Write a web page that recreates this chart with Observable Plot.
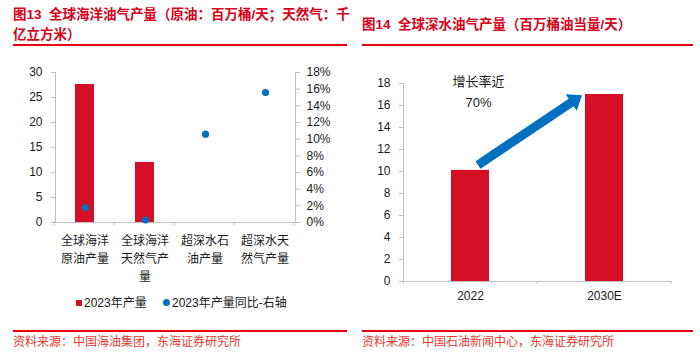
<!DOCTYPE html>
<html>
<head>
<meta charset="utf-8">
<script src="https://cdn.jsdelivr.net/npm/d3@7"></script>
<script src="https://cdn.jsdelivr.net/npm/@observablehq/plot@0.6"></script>
<style>
  body { margin: 0; background: #fff; }
  #root { position: relative; width: 700px; height: 357px; overflow: hidden; background: #fff;
          font-family: "Liberation Sans", Arial, "Noto Sans CJK SC", sans-serif; }
  .abs { position: absolute; }
  .title { color: #D7001A; font-weight: bold; font-size: 13.5px; line-height: 20px; white-space: nowrap; }
  .rule { position: absolute; height: 2px; background: #E60012; }
  .source { color: #E8382F; font-size: 12px; line-height: 16px; white-space: nowrap; }
  .legend { font-size: 12px; line-height: 16px; color: #1a1a1a; white-space: nowrap; }
  .sw { position: absolute; width: 6px; height: 6px; }
</style>
</head>
<body>
<div id="root">
  <div class="abs title" style="left:13px;top:5px;">图13&nbsp;&nbsp;全球海洋油气产量（原油：百万桶/天；天然气：千<br>亿立方米）</div>
  <div class="rule" style="left:13px;top:44px;width:334px;"></div>
  <div class="abs title" style="left:362px;top:15px;">图14&nbsp;&nbsp;全球深水油气产量（百万桶油当量/天）</div>
  <div class="rule" style="left:362px;top:44px;width:331px;"></div>

  <div id="left" class="abs" style="left:0;top:60px;"></div>
  <div id="leftOverlay" class="abs" style="left:0;top:60px;"></div>
  <div id="right" class="abs" style="left:350px;top:60px;"></div>

  <div class="sw" style="left:76px;top:299.5px;background:#D50F25;"></div>
  <div class="abs legend" style="left:84px;top:294.5px;" id="leg1"></div>
  <div class="sw" style="left:163px;top:299px;background:#0070C0;border-radius:50%;width:7px;height:7px;"></div>
  <div class="abs legend" style="left:172px;top:294.5px;" id="leg2"></div>

  <div class="rule" style="left:13px;top:330px;width:334px;"></div>
  <div class="abs source" style="left:13px;top:334px;">资料来源：中国海油集团，东海证券研究所</div>
  <div class="rule" style="left:362px;top:330px;width:331px;"></div>
  <div class="abs source" style="left:362px;top:334px;">资料来源：中国石油新闻中心，东海证券研究所</div>
</div>
<script>
// ---------- data ----------
const categories = ["全球海洋原油产量", "全球海洋天然气产量", "超深水石油产量", "超深水天然气产量"];
const categoryLabels = ["全球海洋\n原油产量", "全球海洋\n天然气产\n量", "超深水石\n油产量", "超深水天\n然气产量"];
const output2023 = [27.6, 12.0, null, null];
const yoy2023 = [0.018, 0.003, 0.106, 0.156];
const leftTicks = [0, 5, 10, 15, 20, 25, 30];
const rightTicks = [0, 0.02, 0.04, 0.06, 0.08, 0.10, 0.12, 0.14, 0.16, 0.18];
const legendLabels = ["2023年产量", "2023年产量同比-右轴"];

const years = ["2022", "2030E"];
const deepwater = [10.1, 17.0];
const deepTicks = [0, 2, 4, 6, 8, 10, 12, 14, 16, 18];
const noteLines = ["增长率近", "70%"];
const noteY = 17.4;
const arrowYears = ["2022", "2030E"];
const arrowValues = [10.55, 16.88];

// ---------- styles ----------
const RED = "#D50F25", BLUE = "#0070C0", AXIS = "#BFBFBF", TEXT = "#1a1a1a";
const FONT = "'Liberation Sans', Arial, 'Noto Sans CJK SC', sans-serif";
const baseStyle = { fontSize: "12px", fontFamily: FONT, color: TEXT, background: "transparent", overflow: "visible" };

document.getElementById("leg1").textContent = legendLabels[0];
document.getElementById("leg2").textContent = legendLabels[1];

// ticks at band boundaries along the bottom axis
function boundaryTicks(cats, len) {
  return (index, scales, values, dimensions) => {
    const x = scales.x;
    const bw = x.bandwidth ? x.bandwidth() : 0;
    const step = x(cats[1]) - x(cats[0]);
    const y0 = dimensions.height - dimensions.marginBottom;
    const xs = cats.map(c => x(c) + bw / 2 - step / 2);
    xs.push(x(cats[cats.length - 1]) + bw / 2 + step / 2);
    const g = d3.create("svg:g");
    g.selectAll("line").data(xs).join("line")
      .attr("x1", d => d).attr("x2", d => d)
      .attr("y1", y0).attr("y2", y0 + len)
      .attr("stroke", AXIS);
    return g.node();
  };
}

const xLeft = { domain: categories, paddingInner: 0.68, paddingOuter: 0.34, axis: null };
const labelOf = new Map(categories.map((c, i) => [c, categoryLabels[i]]));

// ---------- left chart ----------
const left = Plot.plot({
  width: 350, height: 230,
  marginLeft: 55, marginRight: 55, marginTop: 12, marginBottom: 68,
  style: baseStyle,
  x: xLeft,
  y: { domain: [0, 30], axis: null },
  marks: [
    Plot.barY(categories.map((c, i) => ({ c, v: output2023[i] })).filter(d => d.v != null),
      { x: "c", y: "v", fill: RED }),
    Plot.frame({ anchor: "left", stroke: AXIS }),
    Plot.frame({ anchor: "bottom", stroke: AXIS }),
    Plot.axisY({ ticks: leftTicks, tickSize: 4, tickPadding: 9, stroke: AXIS, fill: TEXT, label: null }),
    Plot.axisX({ tickSize: 0, tickPadding: 10, tickFormat: d => labelOf.get(d), lineHeight: 1.5, fill: TEXT, label: null }),
    boundaryTicks(categories, 3)
  ]
});
document.getElementById("left").appendChild(left);

const leftOverlay = Plot.plot({
  width: 350, height: 230,
  marginLeft: 55, marginRight: 55, marginTop: 12, marginBottom: 68,
  style: baseStyle,
  x: xLeft,
  y: { domain: [0, 0.18], axis: null },
  marks: [
    Plot.frame({ anchor: "right", stroke: AXIS }),
    Plot.axisY({ anchor: "right", ticks: rightTicks, tickSize: 4, tickPadding: 7, stroke: AXIS, fill: TEXT,
      tickFormat: d => Math.round(d * 100) + "%", label: null }),
    Plot.dot(categories.map((c, i) => ({ c, v: yoy2023[i] })), { x: "c", y: "v", r: 3.6, fill: BLUE })
  ]
});
document.getElementById("leftOverlay").appendChild(leftOverlay);

// ---------- right chart ----------
function blockArrow(xs, ys, offsets) {
  return (index, scales) => {
    const x = scales.x, y = scales.y;
    const bw = x.bandwidth ? x.bandwidth() : 0;
    const S = [x(xs[0]) + bw / 2 + offsets[0], y(ys[0])];
    const T = [x(xs[1]) + bw / 2 + offsets[1], y(ys[1])];
    const dx = T[0] - S[0], dy = T[1] - S[1], len = Math.hypot(dx, dy);
    const u = [dx / len, dy / len], n = [-u[1], u[0]];
    const w = 4.5, h = 10, L = 13;
    const B = [T[0] - u[0] * L, T[1] - u[1] * L];
    const p = (P, k) => [P[0] + n[0] * k, P[1] + n[1] * k];
    const pts = [p(S, w), p(B, w), p(B, h), T, p(B, -h), p(B, -w), p(S, -w)];
    const g = d3.create("svg:path")
      .attr("d", "M" + pts.map(q => q.join(",")).join("L") + "Z")
      .attr("fill", BLUE);
    return g.node();
  };
}

const right = Plot.plot({
  width: 350, height: 261,
  marginLeft: 53, marginRight: 29, marginTop: 23, marginBottom: 40,
  style: baseStyle,
  x: { domain: years, paddingInner: 0.716, paddingOuter: 0.358, axis: null },
  y: { domain: [0, 18], axis: null },
  marks: [
    Plot.barY(years.map((c, i) => ({ c, v: deepwater[i] })), { x: "c", y: "v", fill: RED }),
    Plot.frame({ anchor: "left", stroke: AXIS }),
    Plot.frame({ anchor: "bottom", stroke: AXIS }),
    Plot.axisY({ ticks: deepTicks, tickSize: 4, tickPadding: 9, stroke: AXIS, fill: TEXT, label: null }),
    Plot.axisX({ tickSize: 0, tickPadding: 10, fill: TEXT, label: null }),
    boundaryTicks(years, 3),
    blockArrow(arrowYears, arrowValues, [8, -22]),
    Plot.text([noteLines.join("\n")], { x: () => years[0], y: () => noteY, text: d => d,
      dx: 8, fontSize: 13, lineHeight: 1.55, fill: TEXT })
  ]
});
document.getElementById("right").appendChild(right);
</script>
</body>
</html>
